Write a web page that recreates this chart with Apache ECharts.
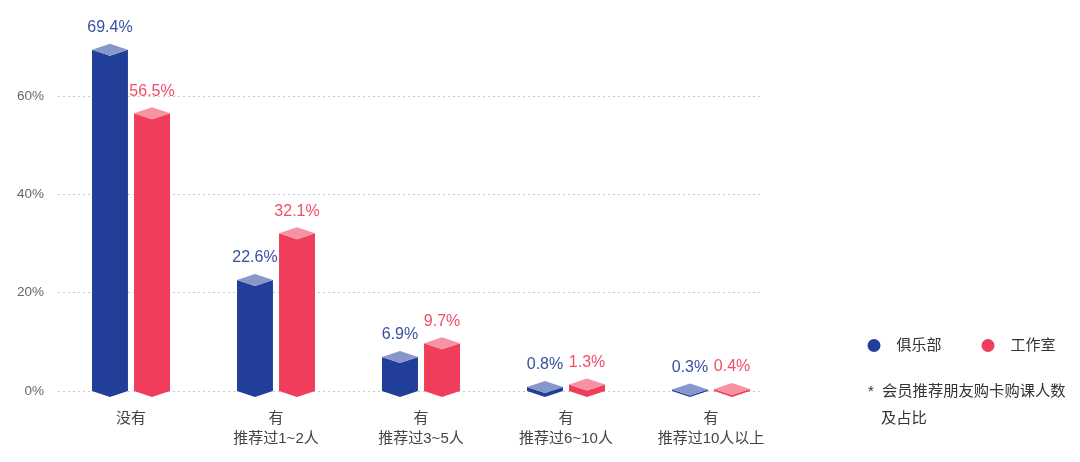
<!DOCTYPE html>
<html>
<head>
<meta charset="utf-8">
<script src="https://cdn.jsdelivr.net/npm/echarts@6/dist/echarts.min.js"></script>
<style>
  html, body { margin: 0; padding: 0; background: #fff; }
  #main { width: 1080px; height: 462px; }
</style>
</head>
<body>
<div id="main"></div>
<script>
// data
const categories = ['没有', '有\n推荐过1~2人', '有\n推荐过3~5人', '有\n推荐过6~10人', '有\n推荐过10人以上'];
const clubValues = [69.4, 22.6, 6.9, 0.8, 0.3];
const studioValues = [56.5, 32.1, 9.7, 1.3, 0.4];
const seriesNames = ['俱乐部', '工作室'];
const yTicks = [0, 20, 40, 60];

const FONT = '"Liberation Sans", "Noto Sans CJK SC", sans-serif';
const colors = {
    club: { face: '#213f98', top: '#8797cc', label: '#3a4ea3' },
    studio: { face: '#ef3d5b', top: '#f593a2', label: '#f04d68' }
};

// pseudo 3d column: diamond top + front with V bottom
function makeRender(palette, side) {
    return function (params, api) {
        const cat = api.value(0);
        const val = api.value(1);
        const band = api.size([1, 0])[0];
        const top = api.coord([cat, val]);
        const base = api.coord([cat, 0]);
        const w = band * 0.248;
        const cx = top[0] + side * band * 0.145;
        const x0 = cx - w / 2, x1 = cx + w / 2;
        const y = top[1], yb = base[1];
        const d = 6;
        return {
            type: 'group',
            children: [{
                type: 'polygon',
                shape: { points: [[x0, y], [cx, y + d], [x1, y], [x1, yb], [cx, yb + d], [x0, yb]] },
                style: { fill: palette.face }
            }, {
                type: 'polygon',
                shape: { points: [[cx, y - d], [x1, y], [cx, y + d], [x0, y]] },
                style: { fill: palette.top }
            }, {
                type: 'text',
                x: cx,
                y: y - d - 8,
                style: {
                    text: val.toFixed(1) + '%',
                    fill: palette.label,
                    font: '16px ' + FONT,
                    align: 'center',
                    verticalAlign: 'bottom'
                }
            }]
        };
    };
}

const myChart = echarts.init(document.getElementById('main'));

const option = {
    animation: false,
    color: [colors.club.face, colors.studio.face],
    legend: {
        data: seriesNames,
        left: 867.5,
        top: 338,
        padding: 0,
        icon: 'circle',
        itemWidth: 13,
        itemHeight: 13,
        itemGap: 40,
        textStyle: { fontSize: 15, color: '#333', fontFamily: FONT, padding: [0, 0, 0, 11] }
    },
    graphic: [{
        type: 'text',
        left: 868,
        top: 384,
        style: { text: '*', font: '15px ' + FONT, fill: '#333' }
    }, {
        type: 'text',
        left: 882,
        top: 384,
        style: { text: '会员推荐朋友购卡购课人数', font: '15.3px ' + FONT, fill: '#333' }
    }, {
        type: 'text',
        left: 881,
        top: 411,
        style: { text: '及占比', font: '15.3px ' + FONT, fill: '#333' }
    }],
    grid: [
        { left: 58.5, right: 296.5, top: 96, bottom: 71 },
        { left: 58, right: 318, top: 96, bottom: 71 }
    ],
    xAxis: [{
        type: 'category',
        gridIndex: 0,
        data: categories,
        axisLine: { show: false },
        axisTick: { show: false },
        axisLabel: { color: '#444', fontSize: 15, fontFamily: FONT, lineHeight: 20, margin: 18 }
    }, {
        type: 'category',
        gridIndex: 1,
        data: categories,
        show: false
    }],
    yAxis: [{
        type: 'value',
        gridIndex: 0,
        min: 0,
        max: 60,
        interval: 20,
        axisLine: { show: false },
        axisTick: { show: false },
        splitLine: { show: false },
        axisLabel: { show: false }
    }, {
        type: 'value',
        gridIndex: 1,
        min: 0,
        max: 60,
        interval: 20,
        axisLine: { show: false },
        axisTick: { show: false },
        splitLine: { lineStyle: { color: '#c8c8c8', type: [2, 3] } },
        axisLabel: {
            color: '#666',
            fontSize: 13.5,
            fontFamily: FONT,
            margin: 14,
            formatter: v => yTicks.indexOf(v) >= 0 ? v + '%' : ''
        }
    }],
    series: [{
        name: seriesNames[0],
        type: 'custom',
        xAxisIndex: 0,
        yAxisIndex: 0,
        renderItem: makeRender(colors.club, -1),
        data: clubValues.map((v, i) => [i, v]),
        z: 3
    }, {
        name: seriesNames[1],
        type: 'custom',
        xAxisIndex: 0,
        yAxisIndex: 0,
        renderItem: makeRender(colors.studio, 1),
        data: studioValues.map((v, i) => [i, v]),
        z: 3
    }]
};

myChart.setOption(option);
</script>
</body>
</html>
